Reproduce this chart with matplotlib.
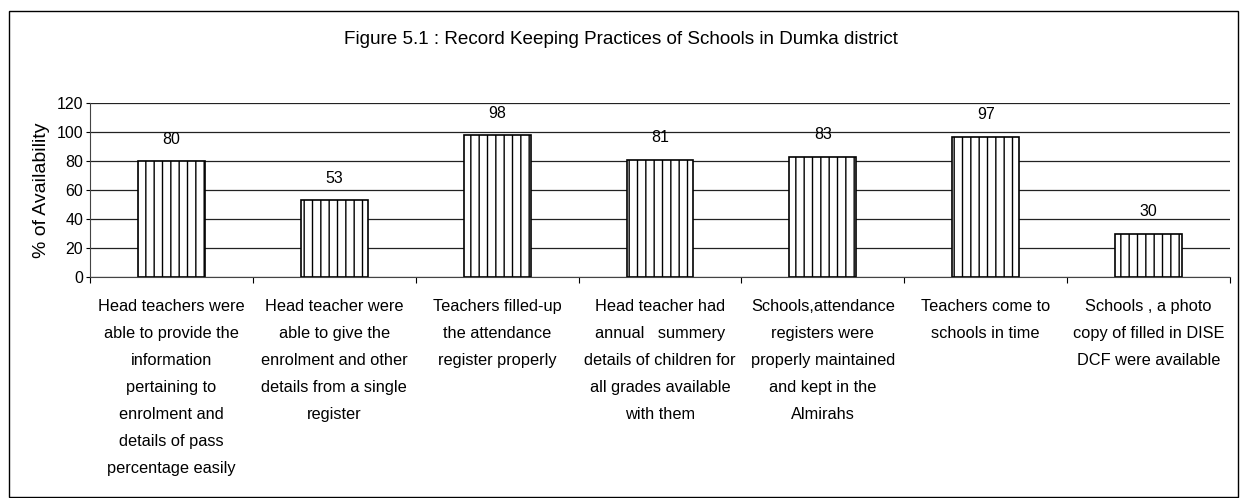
import numpy as np
import matplotlib
matplotlib.use("Agg")
import matplotlib.pyplot as plt
from matplotlib.patches import Rectangle

plt.rcParams["font.family"] = ["Liberation Sans", "DejaVu Sans"]
plt.rcParams["hatch.linewidth"] = 1.0

# data
categories = [
    "Head teachers were\nable to provide the\ninformation\npertaining to\nenrolment and\ndetails of pass\npercentage easily",
    "Head teacher were\nable to give the\nenrolment and other\ndetails from a single\nregister",
    "Teachers filled-up\nthe attendance\nregister properly",
    "Head teacher had\nannual   summery\ndetails of children for\nall grades available\nwith them",
    "Schools,attendance\nregisters were\nproperly maintained\nand kept in the\nAlmirahs",
    "Teachers come to\nschools in time",
    "Schools , a photo\ncopy of filled in DISE\nDCF were available",
]
values = [80, 53, 98, 81, 83, 97, 30]
yticks = [0, 20, 40, 60, 80, 100, 120]

title = "Figure 5.1 : Record Keeping Practices of Schools in Dumka district"
ylabel = "% of Availability"

fig = plt.figure(figsize=(12.42, 4.98), dpi=100)

# outer frame round the whole chart
fig.patches.append(Rectangle((0.0072, 0.002), 0.9895, 0.976, transform=fig.transFigure,
                             fill=False, edgecolor="black", linewidth=1.0))

ax = fig.add_axes([0.0725, 0.4438, 0.9178, 0.3484])
x = np.arange(len(values))

ax.set_axisbelow(True)
ax.grid(True, axis="y", color="#222222", linewidth=0.9)
ax.bar(x, values, width=0.41, color="white", edgecolor="black", linewidth=1.2, hatch="||")

for xi, v in zip(x, values):
    ax.annotate(str(v), (xi, v), xytext=(0, 16), textcoords="offset points",
                ha="center", va="center", fontsize=11.5)

ax.set_xlim(-0.5, len(values) - 0.5)
ax.set_ylim(0, 120)
ax.set_yticks(yticks)
ax.tick_params(axis="y", length=3, pad=2, labelsize=11.5)

# category boundaries get the tick marks, names sit at the centres
ax.set_xticks(np.arange(len(values) + 1) - 0.5)
ax.set_xticklabels([])
ax.tick_params(axis="x", which="major", length=4, direction="out")
ax.set_xticks(x, minor=True)
ax.set_xticklabels(categories, minor=True, fontsize=11.8, linespacing=2.0)
ax.tick_params(axis="x", which="minor", length=0, pad=16)

for s in ["top", "right"]:
    ax.spines[s].set_visible(False)
ax.spines["left"].set_color("#444444")
ax.spines["bottom"].set_color("#444444")

ax.set_ylabel(ylabel, fontsize=14, labelpad=5)
fig.text(0.5, 0.92, title, ha="center", va="center", fontsize=13.6)

fig.savefig("out.png", dpi=100)
